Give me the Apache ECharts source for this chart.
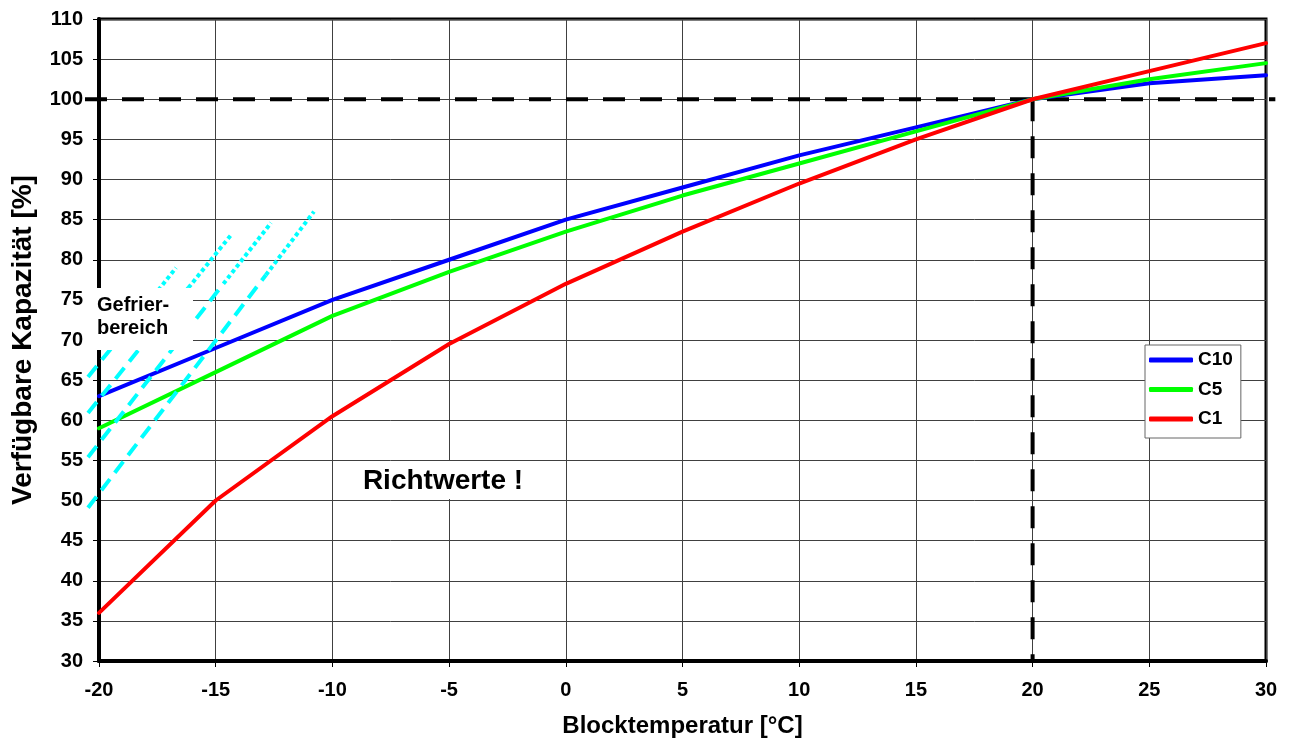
<!DOCTYPE html>
<html>
<head>
<meta charset="utf-8">
<script src="https://cdn.jsdelivr.net/npm/echarts@6/dist/echarts.min.js"></script>
<style>
html,body{margin:0;padding:0;background:#fff;}
#chart{width:1289px;height:745px;}
</style>
</head>
<body>
<div id="chart"></div>
<script>
// ---- data ----
const temps = [-20, -15, -10, -5, 0, 5, 10, 15, 20, 25, 30];
const c10 = [63, 69, 75, 80, 85, 89, 93, 96.5, 100, 102, 103];
const c5 = [59, 66, 73, 78.5, 83.5, 88, 92, 96, 100, 102.5, 104.5];
const c1 = [36, 50, 60.5, 69.5, 77, 83.5, 89.5, 95, 100, 103.5, 107];
const seriesNames = ['C10', 'C5', 'C1'];

// reference lines (100 % / 20 °C)
const refH = [[-20.6, 100], [30.4, 100]];
const refV = [[20, 100], [20, 30]];

// freezing-region hatch lines: [start, dash->dot transition, end]
const freeze1 = [[-20.47, 65.4], [-17.46, 76.2], [-16.70, 79.0]];
const freeze2 = [[-20.47, 60.9], [-16.17, 76.5], [-14.34, 83.1]];
const freeze3 = [[-20.47, 55.4], [-14.67, 77.0], [-12.63, 84.6]];
const freeze4 = [[-20.47, 49.1], [-12.85, 78.1], [-10.79, 86.0]];

const xTicks = { min: -20, max: 30, step: 5 };
const yTicks = { min: 30, max: 110, step: 5 };

const FONT = "'Liberation Sans', Arial, sans-serif";

function zip(xs, ys) { return xs.map((x, i) => [x, ys[i]]); }

const chart = echarts.init(document.getElementById('chart'), null, { renderer: 'canvas' });

const series = [];
series.push({
  type: 'line', data: refV, clip: false, symbol: 'none', silent: true, z: 3,
  lineStyle: { color: '#000', width: 4, type: [22, 15] }
});
const mainColors = ['#0000ff', '#00ff00', '#ff0000'];
[c10, c5, c1].forEach((vals, i) => {
  series.push({
    name: seriesNames[i], type: 'line', data: zip(temps, vals), symbol: 'none', z: 4,
    lineStyle: { color: mainColors[i], width: 4, cap: 'round', join: 'round' },
    itemStyle: { color: mainColors[i] }
  });
});

chart.setOption({
  animation: false,
  backgroundColor: '#fff',
  textStyle: { fontFamily: FONT },
  grid: {
    left: 99, right: 23, top: 19, bottom: 84,
    show: true, borderColor: '#000', borderWidth: 3, backgroundColor: 'transparent'
  },
  xAxis: {
    type: 'value', min: xTicks.min, max: xTicks.max, interval: xTicks.step,
    name: 'Blocktemperatur [°C]', nameLocation: 'middle', nameGap: 53,
    nameTextStyle: { fontFamily: FONT, fontWeight: 'bold', fontSize: 24, color: '#000' },
    axisLine: { show: true, onZero: false, lineStyle: { color: '#000', width: 4 } },
    axisTick: { show: true, length: 6, lineStyle: { color: '#000', width: 1 } },
    axisLabel: { margin: 19, fontFamily: FONT, fontWeight: 'bold', fontSize: 20, color: '#000' },
    splitLine: { show: true, lineStyle: { color: '#404040', width: 1 } }
  },
  yAxis: {
    type: 'value', min: yTicks.min, max: yTicks.max, interval: yTicks.step,
    name: 'Verfügbare Kapazität [%]', nameLocation: 'middle', nameGap: 62, nameRotate: 90,
    nameTextStyle: { fontFamily: FONT, fontWeight: 'bold', fontSize: 28, color: '#000' },
    axisLine: { show: true, onZero: false, lineStyle: { color: '#000', width: 4 } },
    axisTick: { show: true, length: 6, lineStyle: { color: '#000', width: 1 } },
    axisLabel: { margin: 16, fontFamily: FONT, fontWeight: 'bold', fontSize: 20, color: '#000' },
    splitLine: { show: true, lineStyle: { color: '#404040', width: 1 } }
  },
  legend: {
    data: seriesNames.map(n => ({ name: n, icon: 'roundRect' })),
    orient: 'vertical', left: 1145, top: 345,
    itemWidth: 44, itemHeight: 5, itemGap: 9.5,
    padding: [5, 8, 9, 4],
    backgroundColor: '#fff', borderColor: '#666', borderWidth: 1,
    selectedMode: false, z: 20,
    textStyle: { fontFamily: FONT, fontWeight: 'bold', fontSize: 19, color: '#000', lineHeight: 20 }
  },
  series: series
});

// overhanging lines drawn through the chart's own coordinate conversion
function px(p) { return chart.convertToPixel({ gridIndex: 0 }, p); }
const elems = [];
elems.push({
  type: 'polyline', z: 3, silent: true,
  shape: { points: refH.map(px) },
  style: { stroke: '#000', lineWidth: 4, lineDash: [22, 15], fill: null }
});
[freeze1, freeze2, freeze3, freeze4].forEach(l => {
  elems.push({
    type: 'polyline', z: 5, silent: true,
    shape: { points: [l[0], l[1]].map(px) },
    style: { stroke: '#00ffff', lineWidth: 4, lineDash: [14, 8], fill: null }
  });
  elems.push({
    type: 'polyline', z: 5, silent: true,
    shape: { points: [l[1], l[2]].map(px) },
    style: { stroke: '#00ffff', lineWidth: 4, lineDash: [4, 3], fill: null }
  });
});
elems.push({ type: 'rect', z: 10, silent: true, shape: { x: 86, y: 288, width: 107, height: 62 }, style: { fill: '#fff' } });
elems.push({
  type: 'text', z: 11, silent: true, x: 97, y: 294,
  style: { text: 'Gefrier-\nbereich', fill: '#000', font: "bold 20px " + FONT, lineHeight: 23 }
});
elems.push({ type: 'rect', z: 10, silent: true, shape: { x: 340, y: 461, width: 210, height: 38 }, style: { fill: '#fff' } });
elems.push({
  type: 'text', z: 11, silent: true, x: 443, y: 481,
  style: { text: 'Richtwerte !', fill: '#000', font: "bold 28px " + FONT, align: 'center', verticalAlign: 'middle' }
});
chart.setOption({ graphic: elems });
</script>
</body>
</html>
